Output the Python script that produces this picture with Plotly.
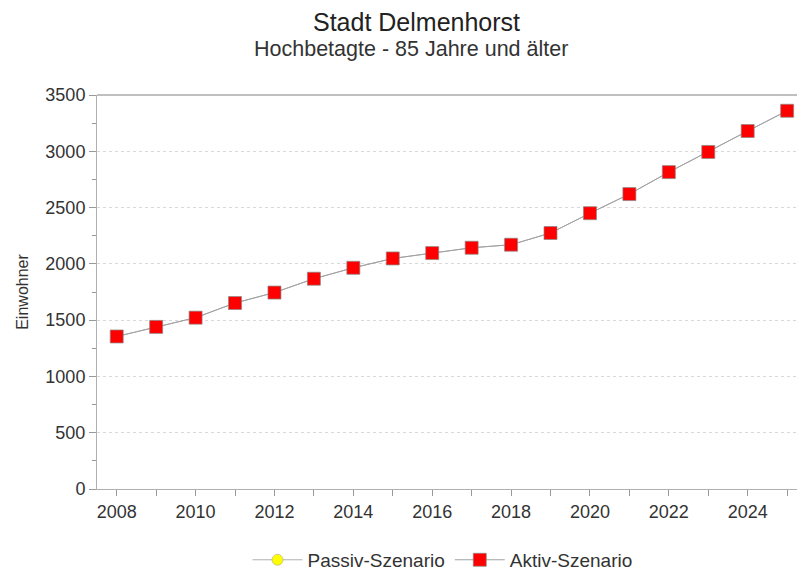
import plotly.graph_objects as go

jahre = list(range(2008, 2026))
aktiv = [1355, 1440, 1522, 1652, 1745, 1868, 1965, 2048, 2096, 2143, 2170, 2274, 2450, 2620, 2815, 2994, 3180, 3360]
passiv = [1355, 1440, 1522, 1652, 1745, 1868, 1965, 2048, 2096, 2143, 2170, 2274, 2450, 2620, 2815, 2994, 3180, 3360]
x_labels = [str(j) if j % 2 == 0 else "" for j in jahre]

fig = go.Figure()
# Passiv-Szenario liegt unter dem Aktiv-Szenario
fig.add_trace(go.Scatter(x=jahre, y=passiv, name="Passiv-Szenario", mode="lines+markers",
                         line=dict(color="#b0b0b0", width=1),
                         marker=dict(symbol="circle", size=11, color="#ffff00",
                                     line=dict(color="#999999", width=0.5))))
fig.add_trace(go.Scatter(x=jahre, y=aktiv, name="Aktiv-Szenario", mode="lines+markers",
                         line=dict(color="#a0a0a0", width=1),
                         marker=dict(symbol="square", size=13, color="#ff0000",
                                     line=dict(color="#888888", width=0.7))))

fig.update_layout(
    width=798, height=570,
    paper_bgcolor="white", plot_bgcolor="white",
    font=dict(family="Liberation Sans, Arial, sans-serif", color="#222222"),
    margin=dict(l=97, r=1, t=95, b=81, autoexpand=False),
    showlegend=True,
    legend=dict(orientation="h", x=0.215, xanchor="left", y=-0.18, yanchor="middle",
                itemwidth=50, font=dict(size=19, color="#333333")),
    xaxis=dict(range=[2007.5, 2025.25], tickvals=jahre, ticktext=x_labels,
               ticks="outside", ticklen=6, tickcolor="#999999",
               showline=True, linecolor="#b0b0b0", showgrid=False, zeroline=False,
               automargin=False, tickfont=dict(size=18, color="#333333")),
    yaxis=dict(range=[0, 3500], dtick=500, ticks="outside", ticklen=7, tickcolor="#999999",
               minor=dict(dtick=250, ticks="outside", ticklen=4, tickcolor="#999999", showgrid=False),
               showline=True, linecolor="#b0b0b0", zeroline=False,
               showgrid=True, gridcolor="#d8d8d8", griddash="dot", gridwidth=1,
               automargin=False, tickfont=dict(size=18, color="#333333"),
               title=dict(text="Einwohner", font=dict(size=16, color="#333333"), standoff=12)),
)
# Titel und Untertitel
fig.add_annotation(text="Stadt Delmenhorst", xref="paper", yref="paper", x=0.456, y=1.186,
                   yanchor="middle", showarrow=False, font=dict(size=25, color="#222222"))
fig.add_annotation(text="Hochbetagte - 85 Jahre und älter", xref="paper", yref="paper", x=0.449,
                   y=1.118, yanchor="middle", showarrow=False, font=dict(size=21.5, color="#333333"))
# obere Begrenzungslinie
fig.add_shape(type="line", xref="paper", yref="paper", x0=0, x1=1, y0=1, y1=1,
              line=dict(color="#aaaaaa", width=1.5))
fig.write_html("out.html", config={"displayModeBar": False},
               post_script="document.body.style.margin='0';")
